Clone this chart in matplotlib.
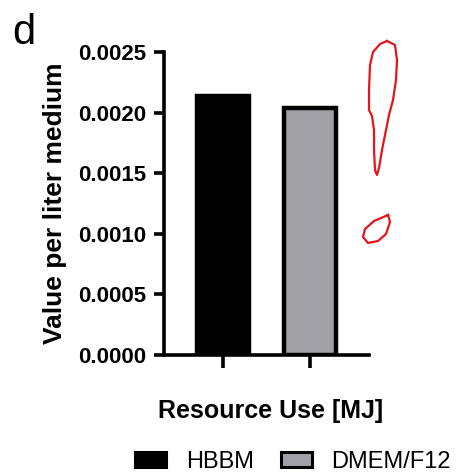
import matplotlib.pyplot as plt
import matplotlib.patches as mpatches
from matplotlib.lines import Line2D

plt.rcParams['font.family'] = ['Liberation Sans', 'DejaVu Sans']

grupos = ['HBBM', 'DMEM/F12']
valores = [0.00214, 0.00204]
colores = ['#000000', '#a1a0a5']
yticks = [0.0, 0.0005, 0.0010, 0.0015, 0.0020, 0.0025]

W, H = 457, 472
fig = plt.figure(figsize=(W / 100, H / 100), dpi=100)

# ejes colocados en pixeles
x0, x1, y0, y1 = 164, 369, 355, 52
ax = fig.add_axes([x0 / W, (H - y0) / H, (x1 - x0) / W, (y0 - y1) / H])

pos = list(range(len(grupos)))
ax.bar(pos, valores, width=0.60, color=colores, edgecolor='black', linewidth=3.2)

ax.set_xlim(-0.678, 1.678)
ax.set_ylim(0, 0.0025)
ax.set_yticks(yticks)
ax.set_yticklabels(['%.4f' % v for v in yticks], fontsize=16, fontweight='bold')
ax.set_xticks(pos)
ax.set_xticklabels([])
ax.tick_params(axis='y', direction='out', length=7.5, width=2.6, pad=5)
ax.tick_params(axis='x', direction='out', length=9.5, width=2.6)

for s in ['top', 'right']:
    ax.spines[s].set_visible(False)
for s in ['left', 'bottom']:
    ax.spines[s].set_linewidth(2.6)

ax.set_ylabel('Value per liter medium', fontsize=19, fontweight='bold', labelpad=8)
ax.set_xlabel('Resource Use [MJ]', fontsize=18, fontweight='bold', labelpad=19)
ax.xaxis.label.set_x(0.52)

# letra del panel
fig.text(12 / W, 1 - 44 / H, 'd', fontsize=30)

# leyenda abajo
handles = [mpatches.Patch(facecolor=c, edgecolor='black', linewidth=2.2) for c in colores]
fig.legend(handles, grupos, loc='center', bbox_to_anchor=(293 / W, 1 - 462 / H),
           ncol=2, frameon=False, fontsize=17, handlelength=1.3, handleheight=0.6,
           handletextpad=0.85, columnspacing=1.15, borderpad=0.1)

# marca roja dibujada a mano
trazo = [(387, 41), (395, 45), (397, 60), (396, 80), (393, 100), (389, 115), (386, 130),
         (382, 150), (379, 168), (377, 175), (375, 170), (374, 150), (374, 130), (372, 116),
         (369, 110), (369, 90), (370, 65), (373, 52), (380, 44), (387, 41)]
punto = [(388, 215), (390, 222), (386, 234), (378, 241), (368, 243), (363, 237), (365, 229),
         (374, 221), (388, 215)]
for forma in [trazo, punto]:
    fig.add_artist(Line2D([p[0] / W for p in forma], [1 - p[1] / H for p in forma],
                          color='#e8141c', linewidth=1.6, transform=fig.transFigure))

fig.savefig('out.png', dpi=100)
